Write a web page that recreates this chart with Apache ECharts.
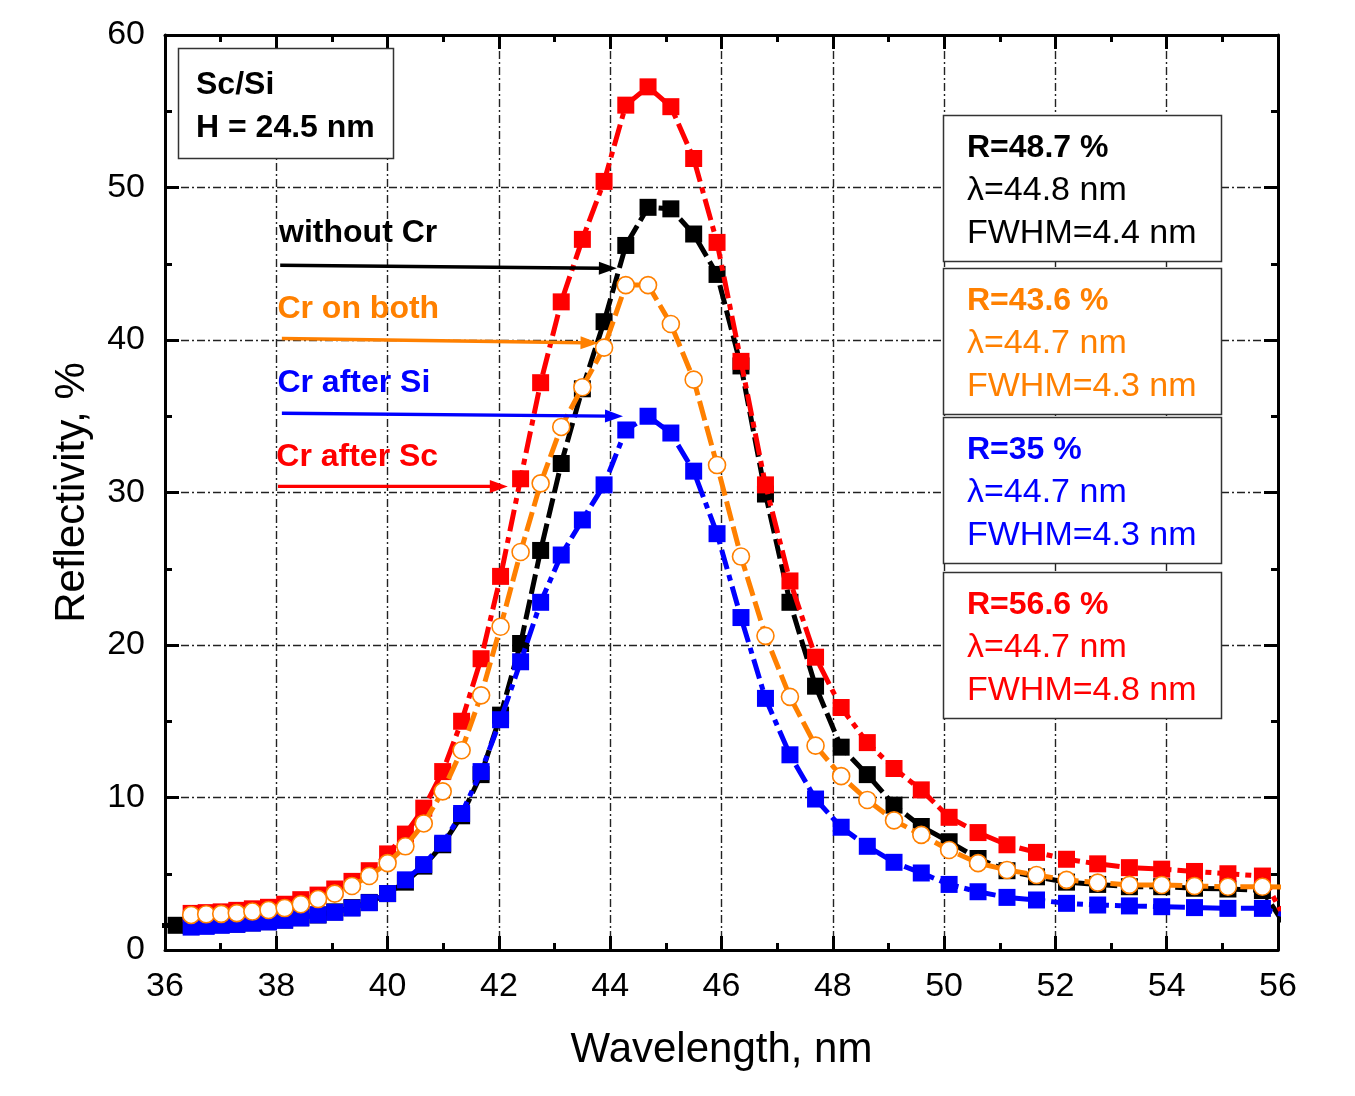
<!DOCTYPE html>
<html>
<head>
<meta charset="utf-8">
<script src="https://cdn.jsdelivr.net/npm/echarts@6/dist/echarts.min.js"></script>
<style>
  html, body { margin: 0; padding: 0; background: #fff; }
  #chart { width: 1355px; height: 1096px; }
</style>
</head>
<body>
<div id="chart"></div>
<script>
// Wavelength grid of the measurement, nm (equal steps in photon energy)
const wavelength = [
  35.94, 36.20, 36.47, 36.74, 37.01, 37.29, 37.57, 37.86, 38.15, 38.44,
  38.75, 39.05, 39.36, 39.67, 40.00, 40.32, 40.65, 40.99, 41.33, 41.68,
  42.03, 42.39, 42.75, 43.12, 43.50, 43.89, 44.28, 44.68, 45.09, 45.50,
  45.92, 46.35, 46.79, 47.23, 47.69, 48.15, 48.62, 49.10, 49.59, 50.09,
  50.61, 51.13, 51.66, 52.20, 52.76, 53.33, 53.91, 54.50, 55.10, 55.72,
  56.36
];

// Reflectivity, %
const withoutCr = [
  1.60, 1.62, 1.60, 1.62, 1.66, 1.70, 1.78, 1.86, 1.97, 2.12,
  2.30, 2.50, 2.78, 3.12, 3.70, 4.45, 5.50, 6.90, 8.80, 11.5,
  15.4, 20.1, 26.2, 31.9, 36.8, 41.2, 46.2, 48.7, 48.6, 46.95,
  44.3, 38.3, 29.9, 22.8, 17.3, 13.3, 11.5, 9.50, 8.10, 7.10,
  6.00, 5.20, 4.80, 4.45, 4.30, 4.15, 4.15, 4.05, 4.00, 3.90,
  0.30
];
const crAfterSc = [
  null, null, 2.40, 2.45, 2.50, 2.60, 2.70, 2.80, 3.00, 3.30,
  3.60, 4.00, 4.50, 5.20, 6.30, 7.60, 9.30, 11.7, 15.0, 19.1,
  24.5, 30.9, 37.2, 42.5, 46.6, 50.4, 55.4, 56.6, 55.3, 51.9,
  46.4, 38.6, 30.5, 24.2, 19.2, 15.9, 13.6, 11.9, 10.5, 8.70,
  7.70, 6.90, 6.40, 5.95, 5.65, 5.40, 5.30, 5.15, 5.00, 4.85,
  0.40
];
const crAfterSi = [
  null, null, 1.50, 1.55, 1.62, 1.68, 1.76, 1.84, 1.95, 2.10,
  2.30, 2.47, 2.75, 3.10, 3.70, 4.60, 5.60, 7.00, 8.95, 11.7,
  15.1, 18.9, 22.8, 25.9, 28.2, 30.5, 34.1, 35.0, 33.9, 31.4,
  27.3, 21.8, 16.5, 12.8, 9.90, 8.05, 6.80, 5.75, 5.05, 4.30,
  3.82, 3.45, 3.28, 3.06, 2.95, 2.89, 2.84, 2.78, 2.73, 2.73,
  2.00
];
const crOnBoth = [
  null, null, 2.30, 2.34, 2.37, 2.42, 2.52, 2.62, 2.75, 3.00,
  3.34, 3.70, 4.20, 4.85, 5.70, 6.80, 8.30, 10.4, 13.1, 16.7,
  21.2, 26.1, 30.6, 34.3, 36.9, 39.5, 43.6, 43.6, 41.05, 37.4,
  31.8, 25.8, 20.6, 16.6, 13.4, 11.4, 9.84, 8.50, 7.55, 6.56,
  5.70, 5.25, 4.92, 4.60, 4.42, 4.27, 4.26, 4.20, 4.15, 4.15,
  4.10
];

// Axis ranges and major tick steps
const xRange = [36, 56];
const xStep = 2;
const yRange = [0, 60];
const yStep = 10;

// Summary text of each sample
const sampleName = ['Sc/Si', 'H = 24.5 nm'];
const peakInfo = [
  ['R=48.7 %', 'λ=44.8 nm', 'FWHM=4.4 nm'],
  ['R=43.6 %', 'λ=44.7 nm', 'FWHM=4.3 nm'],
  ['R=35 %',   'λ=44.7 nm', 'FWHM=4.3 nm'],
  ['R=56.6 %', 'λ=44.7 nm', 'FWHM=4.8 nm']
];

const FONT = '"Liberation Sans", Arial, Helvetica, sans-serif';
const C_BLACK = '#000000';
const C_RED = '#ff0000';
const C_BLUE = '#0000ff';
const C_ORANGE = '#ff8000';

function pairs(values) {
  const out = [];
  values.forEach((v, i) => { if (v !== null) out.push([wavelength[i], v]); });
  return out;
}

const chart = echarts.init(document.getElementById('chart'), null, { renderer: 'canvas' });

const tickStyle = { color: '#000', width: 3 };
const gridLine = { color: '#222', width: 1.4, type: [8, 3, 2, 3] };

function xAxisDef(position, withLabels) {
  return {
    type: 'value', position: position,
    min: xRange[0], max: xRange[1], interval: xStep,
    axisLine: { show: true, onZero: false, lineStyle: { color: '#000', width: 3 } },
    axisTick: { show: true, inside: true, length: 14, lineStyle: tickStyle },
    minorTick: { show: true, splitNumber: 2, length: 7, lineStyle: tickStyle },
    axisLabel: { show: withLabels, fontSize: 34, color: '#000', fontFamily: FONT, margin: 20 },
    splitLine: { show: withLabels, lineStyle: gridLine },
    minorSplitLine: { show: false },
    name: withLabels ? 'Wavelength, nm' : '',
    nameLocation: 'middle', nameGap: 79,
    nameTextStyle: { fontSize: 42, color: '#000', fontFamily: FONT }
  };
}
function yAxisDef(position, withLabels) {
  return {
    type: 'value', position: position,
    min: yRange[0], max: yRange[1], interval: yStep,
    axisLine: { show: true, onZero: false, lineStyle: { color: '#000', width: 3 } },
    axisTick: { show: true, inside: true, length: 14, lineStyle: tickStyle },
    minorTick: { show: true, splitNumber: 2, length: 7, lineStyle: tickStyle },
    axisLabel: { show: withLabels, fontSize: 34, color: '#000', fontFamily: FONT, margin: 20 },
    splitLine: { show: withLabels, lineStyle: gridLine },
    name: withLabels ? 'Reflectivity, %' : '',
    nameLocation: 'middle', nameGap: 72,
    nameTextStyle: { fontSize: 42, color: '#000', fontFamily: FONT }
  };
}

function squareSeries(name, values, color, dash, z) {
  return {
    name: name, type: 'line', data: pairs(values),
    symbol: 'rect', symbolSize: 17, showAllSymbol: true,
    clip: true, silent: true, z: z,
    lineStyle: { color: color, width: 5, type: dash, cap: 'butt' },
    itemStyle: { color: color, borderWidth: 0 }
  };
}

chart.setOption({
  animation: false,
  backgroundColor: '#ffffff',
  grid: { left: 165, right: 77, top: 35, bottom: 146, containLabel: false },
  xAxis: [xAxisDef('bottom', true), xAxisDef('top', false)],
  yAxis: [yAxisDef('left', true), yAxisDef('right', false)],
  series: [
    squareSeries('without Cr', withoutCr, C_BLACK, [20, 6], 2),
    squareSeries('Cr after Sc', crAfterSc, C_RED, [22, 6, 6, 6], 3),
    squareSeries('Cr after Si', crAfterSi, C_BLUE, [20, 6, 6, 6], 4),
    {
      name: 'Cr on both', type: 'line', data: pairs(crOnBoth),
      symbol: 'circle', symbolSize: 17, showAllSymbol: true,
      clip: true, silent: true, z: 5,
      lineStyle: { color: C_ORANGE, width: 5, type: [20, 6], cap: 'butt' },
      itemStyle: { color: '#ffffff', borderColor: C_ORANGE, borderWidth: 1.6 }
    }
  ]
});

// Arrows pointing from the sample names to their curves (data coordinates)
const arrowNotes = [
  { text: 'without Cr',  color: C_BLACK,  label: [38.05, 47.0], from: [38.07, 44.9], to: [44.12, 44.7] },
  { text: 'Cr on both',  color: C_ORANGE, label: [38.02, 42.0], from: [38.10, 40.1], to: [43.79, 39.8] },
  { text: 'Cr after Si', color: C_BLUE,   label: [38.02, 37.2], from: [38.10, 35.2], to: [44.23, 35.0] },
  { text: 'Cr after Sc', color: C_RED,    label: [38.00, 32.3], from: [38.03, 30.4], to: [42.16, 30.4] }
];

const graphics = [];
const toPx = (p) => chart.convertToPixel({ xAxisIndex: 0, yAxisIndex: 0 }, p);

arrowNotes.forEach((a) => {
  const p1 = toPx(a.from), p2 = toPx(a.to), pl = toPx(a.label);
  const dx = p2[0] - p1[0], dy = p2[1] - p1[1];
  const len = Math.sqrt(dx * dx + dy * dy);
  const ux = dx / len, uy = dy / len;
  const headLen = 18, headHalf = 6.5;
  const bx = p2[0] - ux * headLen, by = p2[1] - uy * headLen;
  graphics.push({
    type: 'line', z: 50, silent: true,
    shape: { x1: p1[0], y1: p1[1], x2: bx + ux * 2, y2: by + uy * 2 },
    style: { stroke: a.color, lineWidth: 3.4 }
  });
  graphics.push({
    type: 'polygon', z: 50, silent: true,
    shape: { points: [[p2[0], p2[1]], [bx - uy * headHalf, by + ux * headHalf], [bx + uy * headHalf, by - ux * headHalf]] },
    style: { fill: a.color }
  });
  graphics.push({
    type: 'text', z: 50, silent: true, x: pl[0], y: pl[1],
    style: { text: a.text, fill: a.color, font: 'bold 32px ' + FONT, textAlign: 'left', textVerticalAlign: 'middle' }
  });
});

// Sample description box
graphics.push({
  type: 'rect', z: 40, silent: true,
  shape: { x: 178.5, y: 48.5, width: 215, height: 110 },
  style: { fill: '#fff', stroke: '#333', lineWidth: 1.5 }
});
sampleName.forEach((t, i) => {
  graphics.push({
    type: 'text', z: 41, silent: true, x: 196, y: 85 + i * 43,
    style: { text: t, fill: '#000', font: 'bold 32px ' + FONT, textAlign: 'left', textVerticalAlign: 'middle' }
  });
});

// Peak parameter boxes
const boxColors = [C_BLACK, C_ORANGE, C_BLUE, C_RED];
const boxTops = [115.5, 268.5, 417.5, 572.5];
peakInfo.forEach((lines, k) => {
  const top = boxTops[k];
  graphics.push({
    type: 'rect', z: 40, silent: true,
    shape: { x: 943.5, y: top, width: 278, height: 146 },
    style: { fill: '#fff', stroke: '#333', lineWidth: 1.5 }
  });
  lines.forEach((t, i) => {
    graphics.push({
      type: 'text', z: 41, silent: true, x: 967, y: top + 33 + i * 42.5,
      style: {
        text: t, fill: boxColors[k],
        font: (i === 0 ? 'bold 32px ' : '34px ') + FONT,
        textAlign: 'left', textVerticalAlign: 'middle'
      }
    });
  });
});

chart.setOption({ graphic: graphics });
</script>
</body>
</html>
